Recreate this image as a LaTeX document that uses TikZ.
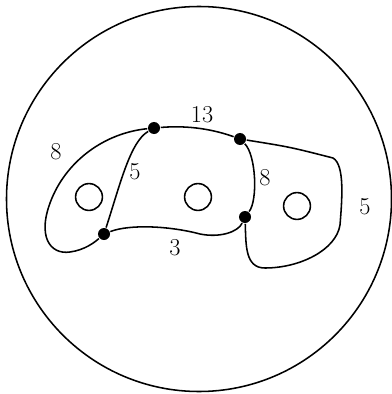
\documentclass[tikz,border=0pt]{standalone}
\usepackage{tikz}
\usetikzlibrary{positioning, calc}

\begin{document}
\begin{tikzpicture}[x=0.025cm, y=-0.025cm, line width=1.1pt,
    vertex/.style={circle, fill=black, inner sep=0pt, minimum size=0.3cm},
    hole/.style={circle, draw, inner sep=0pt, minimum size=0.67cm},
    weight/.style={font=\LARGE}]
    \useasboundingbox (0,0) rectangle (392,394);
    \draw (199,199) circle (0.025*192.5cm);
    % holes
    \node[hole] (h1) at (89,197) {};
    \node[hole] (h2) at (198,197) {};
    \node[hole] (h3) at (297,206) {};
    % vertices
    \node[vertex] (va) at (154,128) {};
    \node[vertex] (vb) at (240,139) {};
    \node[vertex] (vc) at (104,234) {};
    \node[vertex] (vd) at (245,217) {};
    % edges
    \draw (va) .. controls (105,133) and (68,160) .. (52,198)
               .. controls (36,236) and (50,255) .. (70,252)
               .. controls (85,250) and (95,242) .. (vc);
    \draw (va) .. controls (190,125) and (215,130) .. (vb);
    \draw (va) .. controls (130,142) and (120,185) .. (vc);
    \draw (vc) .. controls (130,224) and (170,226) .. (200,234)
               .. controls (220,238) and (238,232) .. (vd);
    \draw (vb) .. controls (256,155) and (258,200) .. (vd);
    \draw (vb) .. controls (290,147) .. (333,158)
               .. controls (345,165) and (342,200) .. (340,225)
               .. controls (336,250) and (300,268) .. (265,268)
               .. controls (245,268) and (246,245) .. (vd);
    % labels
    \node[weight] (w1) at (202,115) {13};
    \node[weight] (w2) at (56,152) {8};
    \node[weight] (w3) at (135,172) {5};
    \node[weight] (w4) at (175,248) {3};
    \node[weight] (w5) at (265,178) {8};
    \node[weight] (w6) at (365,207) {5};
\end{tikzpicture}
\end{document}
